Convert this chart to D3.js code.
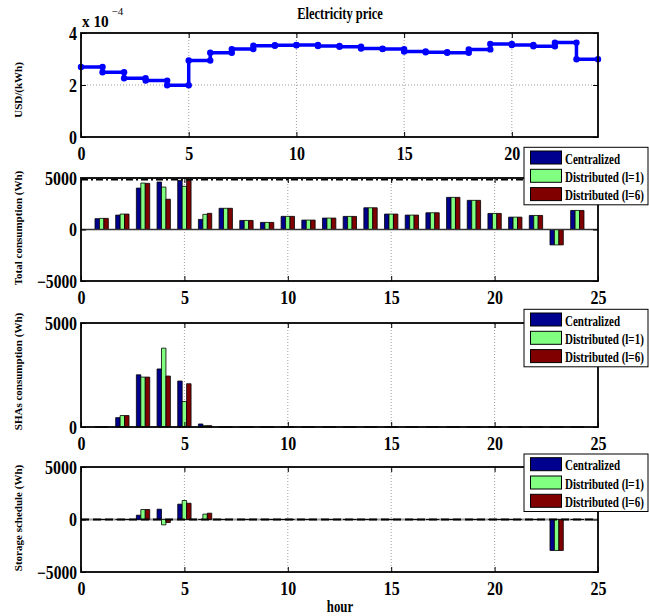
<!DOCTYPE html>
<html>
<head>
<meta charset="utf-8">
<script src="https://cdn.jsdelivr.net/npm/d3@7"></script>
<style>
body { margin: 0; background: #fff; }
text { font-family: "Liberation Serif", "Times New Roman", serif; font-weight: bold; fill: #000; }
</style>
</head>
<body>
<script>
// electricity price per hour (USD/kWh), one step per hour 0..23
var price = [2.69e-4, 2.49e-4, 2.26e-4, 2.17e-4, 1.99e-4, 2.94e-4, 3.24e-4, 3.38e-4,
             3.51e-4, 3.53e-4, 3.54e-4, 3.50e-4, 3.47e-4, 3.40e-4, 3.38e-4, 3.29e-4,
             3.26e-4, 3.24e-4, 3.37e-4, 3.58e-4, 3.54e-4, 3.49e-4, 3.63e-4, 2.99e-4];

var hours = d3.range(1, 25);
var seriesNames = ['Centralized', 'Distributed (l=1)', 'Distributed (l=6)'];
var seriesColors = ['#00008f', '#80ff80', '#800000'];

// total consumption (Wh)
var totalCentral = [1050, 1400, 4020, 4610, 4770, 980, 2060, 880, 690, 1275, 915, 1110,
                    1270, 2110, 1500, 1400, 1625, 3120, 2830, 1560, 1200, 1365, -1495, 1850];
var totalDist1 = [1080, 1500, 4510, 4120, 4190, 1470, 2060, 880, 690, 1275, 915, 1110,
                  1270, 2110, 1500, 1400, 1625, 3120, 2830, 1560, 1200, 1365, -1495, 1850];
var totalDist6 = [1080, 1500, 4480, 2940, 4770, 1570, 2060, 880, 690, 1275, 915, 1110,
                  1270, 2110, 1500, 1400, 1625, 3120, 2830, 1560, 1200, 1365, -1495, 1850];
var totalLimit = 4850;

// SHAs consumption (Wh)
var shaCentral = [0, 450, 2510, 2790, 2210, 145, 0, 0, 0, 0, 0, 0,
                  0, 0, 0, 0, 0, 0, 0, 0, 0, 0, 0, 0];
var shaDist1 = [0, 550, 2400, 3790, 1225, 65, 0, 0, 0, 0, 0, 0,
                0, 0, 0, 0, 0, 0, 0, 0, 0, 0, 0, 0];
var shaDist6 = [0, 550, 2400, 2450, 2080, 65, 0, 0, 0, 0, 0, 0,
                0, 0, 0, 0, 0, 0, 0, 0, 0, 0, 0, 0];

// storage schedule (Wh)
var storCentral = [0, 0, 410, 980, 1460, 0, 0, 0, 0, 0, 0, 0,
                   0, 0, 0, 0, 0, 0, 0, 0, 0, 0, -2950, 0];
var storDist1 = [0, 0, 950, -510, 1810, 510, 0, 0, 0, 0, 0, 0,
                 0, 0, 0, 0, 0, 0, 0, 0, 0, 0, -2950, 0];
var storDist6 = [0, 0, 950, -285, 1550, 600, 0, 0, 0, 0, 0, 0,
                 0, 0, 0, 0, 0, 0, 0, 0, 0, 0, -2950, 0];

var priceXTicks = [0, 5, 10, 15, 20];
var priceYTicks = [0, 2e-4, 4e-4];
var barXTicks = [0, 5, 10, 15, 20, 25];
var symYTicks = [-5000, 0, 5000];
var posYTicks = [0, 5000];

// small stand-in for d3-selection-multi
d3.selection.prototype.attrs = function(o) {
  var s = this
  Object.keys(o).forEach(function(k) { s.attr(k, o[k]) })
  return s
}

var width = 649, height = 616,
    left = 81, right = 598,
    bw = 0.215

var svg = d3.select('body').append('svg')
    .attr('width', width)
    .attr('height', height)

// text in the original is narrow, squeeze glyphs to match
function squeeze(sel, perChar, size) {
  sel.style('font-size', size + 'px')
     .attr('textLength', function() { return this.textContent.length * perChar })
     .attr('lengthAdjust', 'spacingAndGlyphs')
}

function grid(g, x, y, xTicks, yTicks) {
  var xd = x.domain(), yd = y.domain()
  g.selectAll('.vg').data(xTicks.filter(function(d) { return d > xd[0] && d < xd[1] }))
    .enter().append('line')
    .attrs({x1: x, x2: x, y1: y.range()[0], y2: y.range()[1],
            stroke: '#888', 'stroke-width': 0.8, 'stroke-dasharray': '1,2'})
  g.selectAll('.hg').data(yTicks.filter(function(d) { return d > yd[0] && d < yd[1] }))
    .enter().append('line')
    .attrs({y1: y, y2: y, x1: x.range()[0], x2: x.range()[1],
            stroke: '#888', 'stroke-width': 0.8, 'stroke-dasharray': '1,2'})
}

function axes(g, x, y, xTicks, yTicks, yFmt) {
  var top = y.range()[1], bottom = y.range()[0]
  var xa = g.append('g').attr('transform', 'translate(0,' + bottom + ')')
    .call(d3.axisBottom(x).tickValues(xTicks).tickSize(-5).tickPadding(10).tickFormat(d3.format('d')))
  g.append('g').attr('transform', 'translate(0,' + top + ')')
    .call(d3.axisTop(x).tickValues(xTicks).tickSize(-5).tickFormat(''))
  var ya = g.append('g').attr('transform', 'translate(' + left + ',0)')
    .call(d3.axisLeft(y).tickValues(yTicks).tickSize(-5).tickPadding(4).tickFormat(yFmt))
  g.append('g').attr('transform', 'translate(' + right + ',0)')
    .call(d3.axisRight(y).tickValues(yTicks).tickSize(-5).tickFormat(''))
  g.selectAll('.domain').remove()
  squeeze(xa.selectAll('text'), 8, 18)
  squeeze(ya.selectAll('text'), 8, 18)
  ya.selectAll('text').attr('dy', '0.36em')
  g.append('rect')
    .attrs({x: left, y: top, width: right - left, height: bottom - top,
            fill: 'none', stroke: '#000', 'stroke-width': 1.8})
}

function ylabel(text, cy) {
  svg.append('text')
    .attr('transform', 'translate(21.5,' + cy + ') rotate(-90)')
    .attr('text-anchor', 'middle')
    .style('font-size', '11px')
    .text(text)
}

function legend(top) {
  var lg = svg.append('g').attr('transform', 'translate(524,' + top + ')')
  lg.append('rect').attrs({x: 0, y: 0, width: 124, height: 57.5, fill: '#fff', stroke: '#000', 'stroke-width': 1})
  seriesNames.forEach(function(name, i) {
    lg.append('rect').attrs({x: 6.5, y: 3.7 + i * 18.3, width: 31, height: 13,
                             fill: seriesColors[i], stroke: '#000', 'stroke-width': 1})
    lg.append('text')
      .attr('transform', 'translate(41,' + (16.4 + i * 18.3) + ') scale(0.735,1)')
      .style('font-size', '15px')
      .text(name)
  })
}

// ---- electricity price ----
var xp = d3.scaleLinear().domain([0, 24]).range([left, right])
var yp = d3.scaleLinear().domain([0, 4e-4]).range([137, 33])
var gp = svg.append('g')
grid(gp, xp, yp, priceXTicks, priceYTicks)

var steps = []
price.forEach(function(p, i) { steps.push([i, p]); steps.push([i + 1, p]) })

gp.append('path')
  .datum(steps)
  .attrs({fill: 'none', stroke: '#0000ff', 'stroke-width': 3.5, 'stroke-linejoin': 'round',
          d: d3.line().x(function(d) { return xp(d[0]) }).y(function(d) { return yp(d[1]) })})
gp.selectAll('.dot').data(steps).enter().append('circle')
  .attrs({cx: function(d) { return xp(d[0]) }, cy: function(d) { return yp(d[1]) }, r: 3.2, fill: '#0000ff'})

axes(gp, xp, yp, priceXTicks, priceYTicks, function(d) { return d3.format('d')(Math.round(d * 1e4)) })

svg.append('text')
  .attr('transform', 'translate(340,18.5) scale(0.78,1)')
  .attr('text-anchor', 'middle')
  .style('font-size', '16px')
  .text('Electricity price')
svg.append('text')
  .attr('transform', 'translate(82,26.5) scale(0.9,1)')
  .style('font-size', '17px')
  .text('x 10')
svg.append('text').attrs({x: 111.5, y: 15}).style('font-size', '11px').style('font-weight', 'normal').text('\u22124')
ylabel('USD/(kWh)', 90)

// ---- bar panels ----
function barPanel(top, bottom, yDomain, yTicks, series) {
  var x = d3.scaleLinear().domain([0, 25]).range([left, right])
  var y = d3.scaleLinear().domain(yDomain).range([bottom, top])
  var g = svg.append('g')
  grid(g, x, y, barXTicks, yTicks)
  series.forEach(function(vals, j) {
    g.selectAll('.s' + j).data(vals).enter().append('path')
      .attr('d', function(v, i) {
        var c = hours[i] + (j - 1) * bw
        var x0 = x(c - bw / 2), x1 = x(c + bw / 2)
        return 'M' + x0 + ',' + y(0) + 'H' + x1 + 'V' + y(v) + 'H' + x0 + 'Z'
      })
      .attrs({fill: seriesColors[j], stroke: '#000', 'stroke-width': 0.8})
  })
  return {g: g, x: x, y: y}
}

var p2 = barPanel(178, 281, [-5000, 5000], symYTicks, [totalCentral, totalDist1, totalDist6])
p2.g.append('line').attrs({x1: left, x2: right, y1: p2.y(0), y2: p2.y(0), stroke: '#333', 'stroke-width': 1.5})
p2.g.append('line').attrs({x1: left, x2: right, y1: p2.y(totalLimit), y2: p2.y(totalLimit),
                           stroke: '#000', 'stroke-width': 1.8, 'stroke-dasharray': '7,3,2,3'})
axes(p2.g, p2.x, p2.y, barXTicks, symYTicks, d3.format('d'))
ylabel('Total consumption (Wh)', 228)

var p3 = barPanel(323, 427, [0, 5000], posYTicks, [shaCentral, shaDist1, shaDist6])
axes(p3.g, p3.x, p3.y, barXTicks, posYTicks, d3.format('d'))
ylabel('SHAs consumption (Wh)', 371.5)

var p4 = barPanel(467, 572, [-5000, 5000], symYTicks, [storCentral, storDist1, storDist6])
p4.g.insert('line', 'path').attrs({x1: left, x2: right, y1: p4.y(0), y2: p4.y(0), stroke: '#999', 'stroke-width': 2})
p4.g.append('line').attrs({x1: left, x2: right, y1: p4.y(0), y2: p4.y(0),
                           stroke: '#000', 'stroke-width': 2, 'stroke-dasharray': '8,4'})
axes(p4.g, p4.x, p4.y, barXTicks, symYTicks, d3.format('d'))
ylabel('Storage schedule (Wh)', 518)

svg.append('text')
  .attr('transform', 'translate(340,612) scale(0.8,1)')
  .attr('text-anchor', 'middle')
  .style('font-size', '16px')
  .text('hour')

legend(147.3)
legend(309.3)
legend(454)
</script>
</body>
</html>
